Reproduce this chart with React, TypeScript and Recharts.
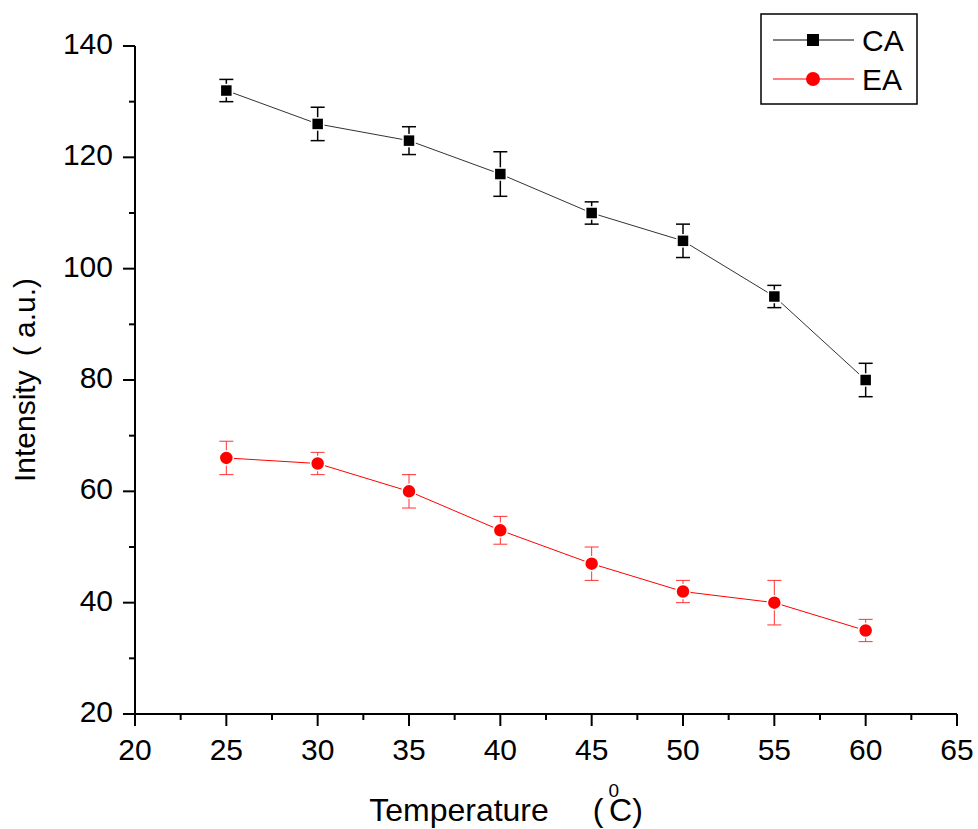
import React from 'react'
import { LineChart, Line, XAxis, YAxis, ErrorBar, Legend } from 'recharts'

const temps = [25, 30, 35, 40, 45, 50, 55, 60]
const caValues = [132, 126, 123, 117, 110, 105, 95, 80]
const caErrors = [2, 3, 2.5, 4, 2, 3, 2, 3]
const eaValues = [66, 65, 60, 53, 47, 42, 40, 35]
const eaErrors = [3, 2, 3, 2.5, 3, 2, 4, 2]

const xTicks = [20, 22.5, 25, 27.5, 30, 32.5, 35, 37.5, 40, 42.5, 45, 47.5, 50, 52.5, 55, 57.5, 60, 62.5, 65]
const xLabels = [20, 25, 30, 35, 40, 45, 50, 55, 60, 65]
const yTicks = [20, 30, 40, 50, 60, 70, 80, 90, 100, 110, 120, 130, 140]
const yLabels = [20, 40, 60, 80, 100, 120, 140]

const data = temps.map((t, i) => ({
  temp: t,
  ca: caValues[i],
  caErr: caErrors[i],
  ea: eaValues[i],
  eaErr: eaErrors[i],
}))

const FONT = '"Liberation Sans", Arial, sans-serif'

function XTick(props: any) {
  const { x, y, payload } = props
  const major = xLabels.includes(payload.value)
  return (
    <g>
      <line x1={x} y1={y} x2={x} y2={y + (major ? 12 : 6)} stroke="#000" strokeWidth={2} />
      {major && (
        <text x={x} y={y + 46} textAnchor="middle" fontSize={30} fontFamily={FONT} fill="#000">
          {payload.value}
        </text>
      )}
    </g>
  )
}

function YTick(props: any) {
  const { x, y, payload } = props
  const major = yLabels.includes(payload.value)
  return (
    <g>
      <line x1={x} y1={y} x2={x - (major ? 12 : 6)} y2={y} stroke="#000" strokeWidth={2} />
      {major && (
        <text x={x - 22} y={y + 8} textAnchor="end" fontSize={30} fontFamily={FONT} fill="#000">
          {payload.value}
        </text>
      )}
    </g>
  )
}

function SquareDot(props: any) {
  const { cx, cy } = props
  if (cx == null || cy == null) return null
  return <rect x={cx - 6} y={cy - 6} width={12} height={12} fill="#000" stroke="#fff" strokeWidth={1.5} />
}

function CircleDot(props: any) {
  const { cx, cy } = props
  if (cx == null || cy == null) return null
  return <circle cx={cx} cy={cy} r={7} fill="#ff0000" stroke="#fff" strokeWidth={1.5} />
}

function XLabel(props: any) {
  const { viewBox } = props
  const cx = viewBox.x + viewBox.width / 2 - 40
  return (
    <text x={cx} y={821} textAnchor="middle" fontSize={32} fontFamily={FONT} fill="#000">
      Temperature
      <tspan dx={44}>(</tspan>
      <tspan dx={5} dy={-24} fontSize={19}>0</tspan>
      <tspan dx={-10} dy={24}>C)</tspan>
    </text>
  )
}

function YLabel(props: any) {
  const { viewBox } = props
  const cy = viewBox.y + viewBox.height / 2
  return (
    <text
      x={35}
      y={cy}
      transform={`rotate(-90, 35, ${cy})`}
      textAnchor="middle"
      fontSize={30}
      fontFamily={FONT}
      fill="#000"
    >
      Intensity<tspan dx={14}>( a.u.)</tspan>
    </text>
  )
}

function LegendBox() {
  return (
    <svg width={158} height={92} style={{ display: 'block' }}>
      <rect x={1} y={1} width={156} height={90} fill="#fff" stroke="#000" strokeWidth={1.5} />
      <line x1={13} y1={27} x2={94} y2={27} stroke="#000" strokeWidth={1} />
      <rect x={47} y={21} width={12} height={12} fill="#000" />
      <text x={102} y={38} fontSize={30} fontFamily={FONT} fill="#000">CA</text>
      <line x1={13} y1={66} x2={94} y2={66} stroke="#ff0000" strokeWidth={1} />
      <circle cx={53} cy={66} r={7} fill="#ff0000" />
      <text x={102} y={77} fontSize={30} fontFamily={FONT} fill="#000">EA</text>
    </svg>
  )
}

export default function App() {
  return (
    <div style={{ position: 'absolute', left: 0, top: 0, background: '#fff' }}>
      <LineChart
        width={978}
        height={829}
        data={data}
        margin={{ top: 46, right: 21, left: 0, bottom: 0 }}
      >
        <XAxis
          dataKey="temp"
          type="number"
          domain={[20, 65]}
          ticks={xTicks}
          interval={0}
          height={115}
          tickSize={0}
          tickMargin={0}
          tickLine={false}
          axisLine={{ stroke: '#000', strokeWidth: 2 }}
          tick={<XTick />}
          label={<XLabel />}
        />
        <YAxis
          type="number"
          domain={[20, 140]}
          ticks={yTicks}
          interval={0}
          width={135}
          tickSize={0}
          tickMargin={0}
          tickLine={false}
          axisLine={{ stroke: '#000', strokeWidth: 2 }}
          tick={<YTick />}
          label={<YLabel />}
        />
        <Legend
          layout="horizontal"
          verticalAlign="middle"
          align="center"
          wrapperStyle={{ position: 'absolute', left: 760, top: 13, width: 158, height: 92 }}
          content={() => <LegendBox />}
        />
        <Line
          type="linear"
          dataKey="ca"
          name="CA"
          stroke="#333"
          strokeWidth={1}
          dot={<SquareDot />}
          activeDot={false}
          isAnimationActive={false}
        >
          <ErrorBar dataKey="caErr" direction="y" width={7} stroke="#000" strokeWidth={1.5} />
        </Line>
        <Line
          type="linear"
          dataKey="ea"
          name="EA"
          stroke="#ff0000"
          strokeWidth={1}
          dot={<CircleDot />}
          activeDot={false}
          isAnimationActive={false}
        >
          <ErrorBar dataKey="eaErr" direction="y" width={7} stroke="#ff3333" strokeWidth={1} />
        </Line>
      </LineChart>
    </div>
  )
}
